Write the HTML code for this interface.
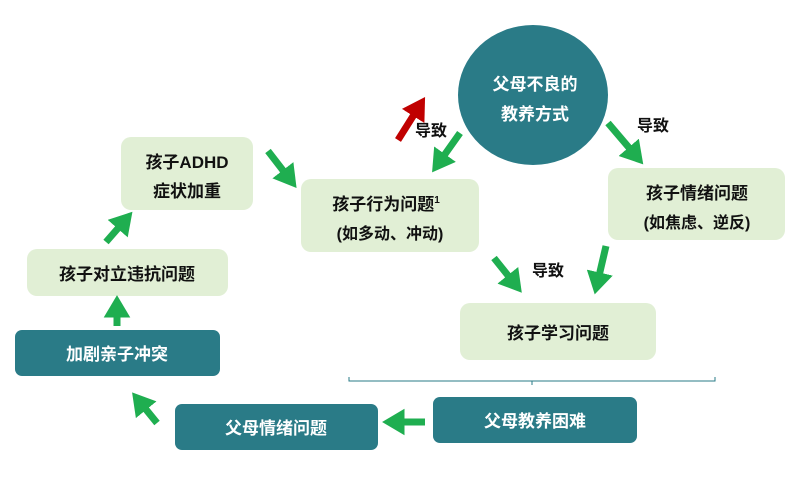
<!DOCTYPE html>
<html><head><meta charset="utf-8"><style>
html,body{margin:0;padding:0;background:#fff;}
svg{display:block;}
text{font-family:"Liberation Sans","Noto Sans CJK SC",sans-serif;font-weight:bold;}
</style></head><body>
<svg width="800" height="486" viewBox="0 0 800 486" xmlns="http://www.w3.org/2000/svg">
<defs>
<marker id="g" markerWidth="3.2" markerHeight="3.8" refX="0.5" refY="1.9" orient="auto" markerUnits="strokeWidth"><path d="M0,0 L3.2,1.9 L0,3.8 z" fill="#1fae50"/></marker>
<marker id="r" markerWidth="3.2" markerHeight="3.8" refX="0.5" refY="1.9" orient="auto" markerUnits="strokeWidth"><path d="M0,0 L3.2,1.9 L0,3.8 z" fill="#c00000"/></marker>
</defs>
<g fill="#e1efd5">
<rect x="121" y="137" width="132" height="73" rx="10"/>
<rect x="301" y="179" width="178" height="73" rx="10"/>
<rect x="27" y="249" width="201" height="47" rx="10"/>
<rect x="608" y="168" width="177" height="72" rx="10"/>
<rect x="460" y="303" width="196" height="57" rx="10"/>
</g>
<g fill="#2a7b87">
<ellipse cx="533" cy="95" rx="75" ry="70"/>
<rect x="15" y="330" width="205" height="46" rx="7"/>
<rect x="175" y="404" width="203" height="46" rx="7"/>
<rect x="433" y="397" width="204" height="46" rx="7"/>
</g>
<path d="M349,377 v4 h366 v-4 M532,381 v4" fill="none" stroke="#2a7b87" stroke-width="1"/>
<g stroke="#1fae50" stroke-width="7" marker-end="url(#g)" fill="none">
<line x1="268" y1="151" x2="285" y2="173"/>
<line x1="460" y1="133" x2="443" y2="157"/>
<line x1="608" y1="123" x2="631" y2="150"/>
<line x1="494" y1="258" x2="510" y2="278"/>
<line x1="606" y1="246" x2="599" y2="276"/>
<line x1="106" y1="242" x2="120" y2="226"/>
<line x1="117" y1="326" x2="117" y2="314"/>
<line x1="425" y1="422" x2="401" y2="422"/>
<line x1="157" y1="423" x2="144" y2="407"/>
</g>
<line x1="398" y1="140" x2="415" y2="113" stroke="#c00000" stroke-width="7" marker-end="url(#r)"/>
<g font-size="17" fill="#111" text-anchor="middle">
<text x="187" y="168">孩子ADHD</text>
<text x="187" y="197">症状加重</text>
<text x="386" y="210">孩子行为问题<tspan font-size="10" dy="-7">1</tspan></text>
<text x="390" y="239" font-size="16">(如多动、冲动)</text>
<text x="127" y="280">孩子对立违抗问题</text>
<text x="697" y="199">孩子情绪问题</text>
<text x="697" y="228" font-size="16">(如焦虑、逆反)</text>
<text x="558" y="339">孩子学习问题</text>
<text x="431" y="136" font-size="16">导致</text>
<text x="653" y="131" font-size="16">导致</text>
<text x="548" y="276" font-size="16">导致</text>
</g>
<g font-size="17" fill="#fff" text-anchor="middle">
<text x="535" y="90">父母不良的</text>
<text x="535" y="120">教养方式</text>
<text x="117" y="360">加剧亲子冲突</text>
<text x="276" y="434">父母情绪问题</text>
<text x="535" y="427">父母教养困难</text>
</g>
</svg>
</body></html>
